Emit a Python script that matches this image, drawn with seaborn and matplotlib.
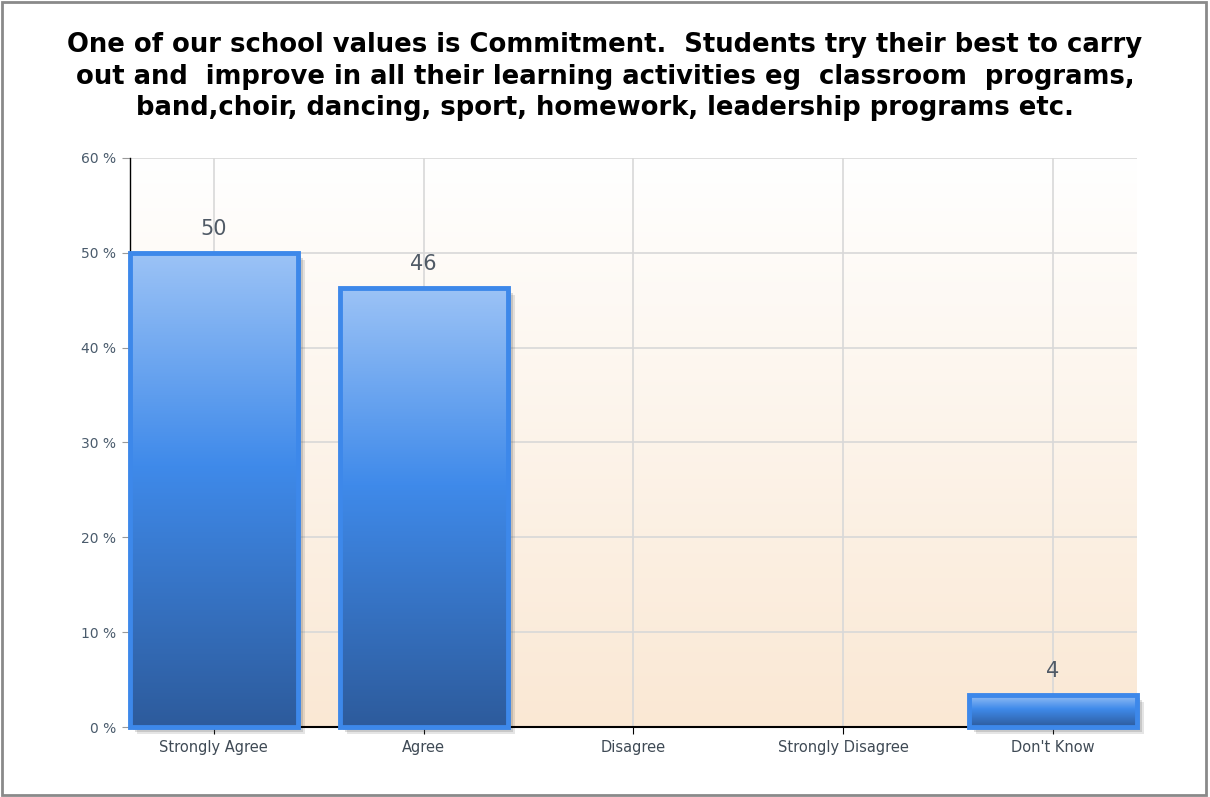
import numpy as np
import matplotlib
matplotlib.use("Agg")
import matplotlib.pyplot as plt
import matplotlib.transforms as mtransforms
from matplotlib.colors import LinearSegmentedColormap
from matplotlib.patches import Rectangle
import seaborn as sns
import pandas as pd

categories = ["Strongly Agree", "Agree", "Disagree", "Strongly Disagree", "Don't Know"]
percent = [50.0, 46.3, 0.0, 0.0, 3.4]
labels = ["50", "46", "", "", "4"]
yticks = [0, 10, 20, 30, 40, 50, 60]

title = ("One of our school values is Commitment.  Students try their best to carry\n"
         "out and  improve in all their learning activities eg  classroom  programs,\n"
         "band,choir, dancing, sport, homework, leadership programs etc.")

sns.set_style("white")
plt.rcParams["font.family"] = ["DejaVu Sans"]

df = pd.DataFrame({"answer": categories, "pct": percent})

fig = plt.figure(figsize=(12.1, 7.97), dpi=100)
ax = fig.add_axes([0.1074, 0.0878, 0.8322, 0.714])

sns.barplot(data=df, x="answer", y="pct", ax=ax, width=0.8,
            facecolor="none", edgecolor="#3d88ea", linewidth=3.5, zorder=3)

ax.set_xlim(-0.4, 4.4)
ax.set_ylim(0, 60)

# background gradient: white -> peach
bg = LinearSegmentedColormap.from_list("bg", ["#fae8d4", "#ffffff"])
ax.imshow(np.linspace(0, 1, 256).reshape(-1, 1), cmap=bg, origin="lower",
          extent=[0, 1, 0, 1], transform=ax.transAxes, aspect="auto", zorder=0)

# bar gradient
barcm = LinearSegmentedColormap.from_list(
    "bar", [(0.0, "#2d5b9c"), (0.55, "#3f8aea"), (1.0, "#9cc3f6")])
for p in ax.patches:
    x0, y0 = p.get_x(), p.get_y()
    w, h = p.get_width(), p.get_height()
    if h <= 0:
        p.set_visible(False)
        continue
    # soft shadow to the lower right
    for k, a in zip([7, 5, 3], [0.15, 0.2, 0.3]):
        tr = mtransforms.offset_copy(ax.transData, fig=fig, x=k, y=-k, units="dots")
        ax.add_patch(Rectangle((x0, y0), w, h, transform=tr, facecolor="#555555",
                               alpha=a, edgecolor="none", zorder=1.5, clip_on=False))
    im = ax.imshow(np.linspace(0, 1, 256).reshape(-1, 1), cmap=barcm, origin="lower",
                   extent=[x0, x0 + w, y0, y0 + h], aspect="auto", zorder=2.5)
    im.set_clip_path(p)
    p.set_clip_on(False)

for i, (v, lab) in enumerate(zip(percent, labels)):
    if lab:
        ax.text(i, v + 1.45, lab, ha="center", va="bottom", fontsize=15,
                color="#505a66", zorder=4)

ax.set_yticks(yticks)
ax.set_yticklabels([f"{t} %" for t in yticks], color="#4a5b6c", fontsize=10)
ax.set_xticks(range(len(categories)))
ax.set_xticklabels(categories, color="#3f4a55", fontsize=10.5)
ax.set_xlabel("")
ax.set_ylabel("")

ax.grid(True, color="#d8d8d8", linewidth=1.2, zorder=1)
ax.set_axisbelow(True)
ax.tick_params(axis="y", length=6, color="#999999", direction="out", pad=4, left=True)
ax.tick_params(axis="x", length=5, color="#000000", direction="out", pad=4, bottom=True)
for s in ["top", "right"]:
    ax.spines[s].set_visible(False)
ax.spines["left"].set_color("#000000")
ax.spines["bottom"].set_color("#000000")
ax.spines["left"].set_linewidth(1)
ax.spines["bottom"].set_linewidth(1.5)

fig.text(0.5, 0.904, title, ha="center", va="center", fontsize=18.6,
         fontweight="bold", family="DejaVu Sans", color="#000000", linespacing=1.27)

fig.patches.append(Rectangle((0.002, 0.002), 0.995, 0.995, transform=fig.transFigure,
                             fill=False, edgecolor="#8a8a8a", linewidth=2))

fig.savefig("out.png", dpi=100)
